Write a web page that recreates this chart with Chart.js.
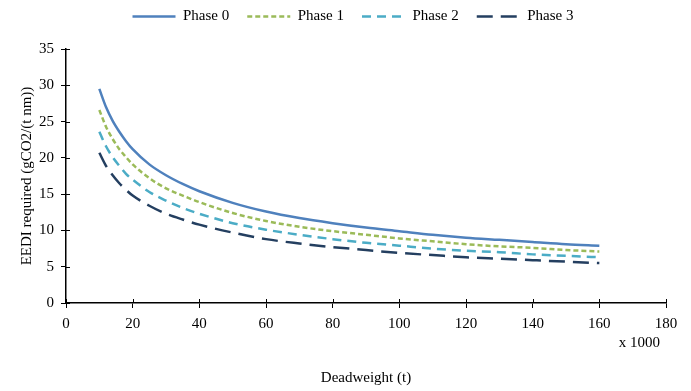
<!DOCTYPE html>
<html lang="en">
  <head>
    <meta charset="UTF-8" />
    <title>EEDI required by phase</title>
    <script src="https://cdn.jsdelivr.net/npm/chart.js"></script>
    <style>
      html, body { margin: 0; padding: 0; background: #fff; }
      #wrap { width: 691px; height: 391px; }
    </style>
  </head>
  <body>
    <div id="wrap"><canvas id="eedi-chart" width="691" height="391"></canvas></div>

    <script>
      // deadweight in thousands of tonnes
      const deadweight = [10, 12, 14, 16, 18, 20, 25, 30, 35, 40, 50, 60, 70, 80, 90, 100, 110, 120, 130, 140, 150, 160];

      const phase0 = [29.5, 27.0, 25.1, 23.6, 22.3, 21.2, 19.1, 17.6, 16.4, 15.4, 13.8, 12.6, 11.7, 11.0, 10.4, 9.9, 9.4, 9.0, 8.7, 8.4, 8.1, 7.9];
      const phase1 = [26.6, 24.3, 22.6, 21.2, 20.1, 19.1, 17.2, 15.8, 14.8, 13.9, 12.4, 11.3, 10.5, 9.9, 9.4, 8.9, 8.5, 8.1, 7.8, 7.6, 7.3, 7.1];
      const phase2 = [23.6, 21.6, 20.1, 18.9, 17.8, 17.0, 15.3, 14.1, 13.1, 12.3, 11.0, 10.1, 9.4, 8.8, 8.3, 7.9, 7.5, 7.2, 7.0, 6.7, 6.5, 6.3];
      const phase3 = [20.7, 18.9, 17.6, 16.5, 15.6, 14.8, 13.4, 12.3, 11.5, 10.8, 9.7, 8.8, 8.2, 7.7, 7.3, 6.9, 6.6, 6.3, 6.1, 5.9, 5.7, 5.5];

      const xTicks = [0, 20, 40, 60, 80, 100, 120, 140, 160, 180];
      const yTicks = [0, 5, 10, 15, 20, 25, 30, 35];

      const serif = "'Liberation Serif', 'Times New Roman', serif";

      function pts(ys) {
        return deadweight.map((x, i) => ({ x: x, y: ys[i] }));
      }

      function line(label, ys, color, dash) {
        return {
          label: label,
          data: pts(ys),
          borderColor: color,
          backgroundColor: color,
          borderWidth: 2.5,
          borderDash: dash,
          pointRadius: 0,
          cubicInterpolationMode: "monotone",
          fill: false,
        };
      }

      // extra room under the legend, and nudge it right a little
      const legendGap = {
        id: "legendGap",
        beforeInit(chart) {
          const fit = chart.legend.fit;
          chart.legend.fit = function () {
            fit.call(this);
            this.height += 15;
          };
        },
        afterLayout(chart) {
          chart.legend.left += 10;
          chart.legend.right += 10;
        },
      };

      // tick marks also poke into the plot, like the original
      const innerTicks = {
        id: "innerTicks",
        afterDatasetsDraw(chart) {
          const ctx = chart.ctx;
          const xs = chart.scales.x;
          const ys = chart.scales.y;
          const a = chart.chartArea;
          ctx.save();
          ctx.strokeStyle = "#000";
          ctx.lineWidth = 1;
          ctx.beginPath();
          xTicks.forEach((v) => {
            const px = Math.round(xs.getPixelForValue(v)) + 0.5;
            ctx.moveTo(px, a.bottom);
            ctx.lineTo(px, a.bottom - 4);
          });
          yTicks.forEach((v) => {
            const py = Math.round(ys.getPixelForValue(v)) + 0.5;
            ctx.moveTo(a.left, py);
            ctx.lineTo(a.left + 4, py);
          });
          ctx.stroke();
          ctx.restore();
        },
      };

      // "x 1000" note under the x axis
      const unitNote = {
        id: "unitNote",
        afterDraw(chart) {
          const ctx = chart.ctx;
          const area = chart.chartArea;
          ctx.save();
          ctx.font = "15px " + serif;
          ctx.fillStyle = "#000";
          ctx.textAlign = "right";
          ctx.textBaseline = "middle";
          ctx.fillText("x 1000", area.right - 6, area.bottom + 40);
          ctx.restore();
        },
      };

      new Chart(document.getElementById("eedi-chart"), {
        type: "line",
        data: {
          datasets: [
            line("Phase 0", phase0, "#4f81bd", []),
            line("Phase 1", phase1, "#9bbb59", [5, 3]),
            line("Phase 2", phase2, "#4bacc6", [9, 6]),
            line("Phase 3", phase3, "#243f60", [16, 8]),
          ],
        },
        options: {
          responsive: false,
          animation: false,
          layout: { padding: { left: 20, right: 25, top: -9, bottom: 4 } },
          plugins: {
            tooltip: { enabled: false },
            legend: {
              position: "top",
              labels: {
                usePointStyle: true,
                pointStyle: "line",
                pointStyleWidth: 43,
                color: "#000",
                font: { family: serif, size: 15 },
                padding: 18,
                // point style drops the dash, so copy it from the dataset
                generateLabels(chart) {
                  const items = Chart.defaults.plugins.legend.labels.generateLabels(chart);
                  items.forEach((it) => {
                    const ds = chart.data.datasets[it.datasetIndex];
                    it.lineDash = ds.borderDash;
                    it.lineWidth = ds.borderWidth;
                    it.strokeStyle = ds.borderColor;
                  });
                  return items;
                },
              },
            },
          },
          scales: {
            x: {
              type: "linear",
              min: 0,
              max: 180,
              afterBuildTicks: (s) => { s.ticks = xTicks.map((v) => ({ value: v })); },
              grid: { drawOnChartArea: false, drawTicks: true, tickLength: 5, color: "#000" },
              border: { display: true, color: "#000", width: 1.5 },
              ticks: { color: "#000", font: { family: serif, size: 15 }, padding: 7, maxRotation: 0 },
              title: {
                display: true,
                text: "Deadweight (t)",
                color: "#000",
                font: { family: serif, size: 15 },
                padding: { top: 29, bottom: 0 },
              },
            },
            y: {
              min: 0,
              max: 35,
              afterBuildTicks: (s) => { s.ticks = yTicks.map((v) => ({ value: v })); },
              grid: { drawOnChartArea: false, drawTicks: true, tickLength: 5, color: "#000" },
              border: { display: true, color: "#000", width: 1.5 },
              ticks: { color: "#000", font: { family: serif, size: 15 }, padding: 7 },
              title: {
                display: true,
                text: "EEDI required (gCO2/(t nm))",
                color: "#000",
                font: { family: serif, size: 15, lineHeight: 1 },
                padding: { top: 0, bottom: -3 },
              },
            },
          },
        },
        plugins: [legendGap, innerTicks, unitNote],
      });
    </script>
  </body>
</html>
